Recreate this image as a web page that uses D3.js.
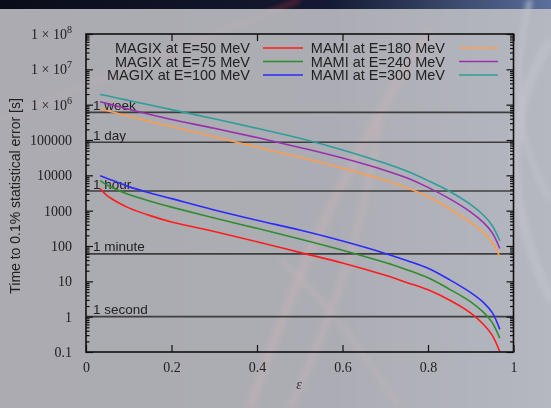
<!DOCTYPE html>
<html><head><meta charset="utf-8">
<script src="https://cdn.jsdelivr.net/npm/d3@7/dist/d3.min.js"></script>
<style>html,body{margin:0;padding:0;background:#0c0f1e;}svg{display:block;}</style>
</head><body>
<svg id="chart" width="551" height="408"></svg>
<script>
// ---- data ----
const eps = [0.033,0.05,0.075,0.1,0.15,0.2,0.3,0.4,0.5,0.6,0.7,0.75,0.8,0.85,0.9,0.93,0.95,0.968];
const magix50  = [4170,2630,1700,1200,724,479,257,132,66,33,14.8,9.3,5.75,2.95,1.26,0.60,0.30,0.102];
const magix75  = [7080,5250,3800,2880,1860,1260,617,316,158,76,33.9,21.4,12.6,6.03,2.63,1.32,0.69,0.245];
const magix100 = [9770,8130,6310,4790,3160,2190,1050,537,282,138,61.7,38.9,23.4,11.2,4.79,2.51,1.32,0.437];
const mami180  = [758600,676100,562300,467700,331100,239900,123000,63100,32360,15850,7244,4467,2512,1148,457,234,126,50.1];
const mami240  = [1202000,1072000,891300,741300,524800,380200,213800,117500,61660,30900,13800,8511,4571,2188,912,457,240,85.1];
const mami300  = [1950000,1778000,1514000,1318000,977200,724400,398100,213800,112200,52480,21880,13180,7079,3548,1479,741,380,141];

const seriesNames = ["MAGIX at E=50 MeV","MAGIX at E=75 MeV","MAGIX at E=100 MeV","MAMI at E=180 MeV","MAMI at E=240 MeV","MAMI at E=300 MeV"];
const seriesValues = [magix50, magix75, magix100, mami180, mami240, mami300];
const seriesColors = ["#ff1c1c","#2f8c2f","#2b2bff","#ff9d4d","#9b30ad","#2f9e9a"];

const refValues = [604800, 86400, 3600, 60, 1];
const refLabels = ["1 week","1 day","1 hour","1 minute","1 second"];

const xTicks = [0,0.2,0.4,0.6,0.8,1];
const xTickLabels = ["0","0.2","0.4","0.6","0.8","1"];
const yTicks = [0.1,1,10,100,1000,10000,100000,1e6,1e7,1e8];
const yTickLabels = ["0.1","1","10","100","1000","10000","100000","1 × 10^6","1 × 10^7","1 × 10^8"];

// ---- layout ----
const svg = d3.select("#chart");
const W = 551, H = 408;
const L = 86, R = 513.5, T = 34, B = 352;

// background
const defs = svg.append("defs");
const g1 = defs.append("linearGradient").attr("id","topg").attr("x1","0").attr("x2","1");
g1.append("stop").attr("offset","0").attr("stop-color","#0a0c18");
g1.append("stop").attr("offset","0.6").attr("stop-color","#141a33");
g1.append("stop").attr("offset","1").attr("stop-color","#5a6f9a");
svg.append("rect").attr("width",W).attr("height",H).attr("fill","url(#topg)");
defs.append("filter").attr("id","bl").append("feGaussianBlur").attr("stdDeviation",2.5);
const sw = svg.append("g").attr("filter","url(#bl)").attr("fill","none");
sw.append("path").attr("d","M 250 408 Q 320 200 430 30").attr("stroke","#ff4a4a").attr("stroke-width",9).attr("opacity",0.45);
sw.append("path").attr("d","M 290 408 Q 360 260 380 120").attr("stroke","#ff5a5a").attr("stroke-width",7).attr("opacity",0.4);
sw.append("path").attr("d","M 400 408 Q 330 300 280 260").attr("stroke","#ff6060").attr("stroke-width",5).attr("opacity",0.35);
sw.append("path").attr("d","M 0 120 Q 150 60 300 0").attr("stroke","#ff4040").attr("stroke-width",4).attr("opacity",0.35);
sw.append("path").attr("d","M 551 40 Q 480 150 551 300").attr("stroke","#e8eeff").attr("stroke-width",10).attr("opacity",0.45);
sw.append("path").attr("d","M 530 0 Q 500 120 551 200").attr("stroke","#ffffff").attr("stroke-width",6).attr("opacity",0.4);
// translucent panel
svg.append("rect").attr("x",0).attr("y",9).attr("width",W).attr("height",H-9)
  .attr("fill","#c2c2c6").attr("opacity",0.88);

const x = d3.scaleLinear().domain([0,1]).range([L,R]);
const y = d3.scaleLog().domain([0.1,1e8]).range([B,T]);

// reference lines
const refG = svg.append("g");
refG.selectAll("line").data(refValues).join("line")
  .attr("x1",L).attr("x2",R).attr("y1",d=>y(d)).attr("y2",d=>y(d))
  .attr("stroke","#2a2a2a").attr("stroke-opacity",0.85).attr("stroke-width",1.6);
refG.selectAll("text").data(refValues).join("text")
  .attr("x",L+7).attr("y",d=>y(d)-2.5)
  .attr("font-family","Liberation Sans, Arial, sans-serif").attr("font-size",13.5)
  .attr("fill","#222").text((d,i)=>refLabels[i]);

// curves
const clipId = "plotclip";
defs.append("clipPath").attr("id",clipId).append("rect").attr("x",L).attr("y",T).attr("width",R-L).attr("height",B-T);
const line = d3.line().x(d=>x(d[0])).y(d=>y(d[1])).curve(d3.curveCatmullRom.alpha(0.5));
const curves = svg.append("g").attr("clip-path",`url(#${clipId})`);
seriesValues.forEach((vals,i)=>{
  curves.append("path").datum(eps.map((e,j)=>[e,vals[j]]))
    .attr("d",line).attr("fill","none").attr("stroke",seriesColors[i]).attr("stroke-width",1.6);
});

// axes
const tickFont = "Liberation Serif, 'DejaVu Serif', serif";
const minor = [];
for (let k=-1;k<8;k++) for (let m=2;m<=9;m++) minor.push(m*Math.pow(10,k));

const axL = svg.append("g").attr("transform",`translate(${L},0)`)
  .call(d3.axisLeft(y).tickValues(yTicks).tickSizeInner(-7).tickSizeOuter(0).tickPadding(14)
    .tickFormat((d,i)=>yTickLabels[i]));
axL.selectAll("text").attr("font-family",tickFont).attr("font-size",14).attr("fill","#222")
  .each(function(){
    const t = d3.select(this), s = t.text();
    if (s.includes("^")) {
      const [a,b] = s.split("^");
      t.text(a);
      t.append("tspan").attr("dy",-6).attr("font-size",10).text(b);
    }
  });
svg.append("g").attr("transform",`translate(${L},0)`)
  .call(d3.axisLeft(y).tickValues(minor).tickSizeInner(-3.5).tickSizeOuter(0).tickFormat(""));
svg.append("g").attr("transform",`translate(${R},0)`)
  .call(d3.axisRight(y).tickValues(yTicks).tickSizeInner(-7).tickSizeOuter(0).tickFormat(""));
svg.append("g").attr("transform",`translate(${R},0)`)
  .call(d3.axisRight(y).tickValues(minor).tickSizeInner(-3.5).tickSizeOuter(0).tickFormat(""));
const axB = svg.append("g").attr("transform",`translate(0,${B})`)
  .call(d3.axisBottom(x).tickValues(xTicks).tickSizeInner(-7).tickSizeOuter(0).tickPadding(10)
    .tickFormat((d,i)=>xTickLabels[i]));
axB.selectAll("text").attr("font-family",tickFont).attr("font-size",14).attr("fill","#222");
svg.append("g").attr("transform",`translate(0,${T})`)
  .call(d3.axisTop(x).tickValues(xTicks).tickSizeInner(-7).tickSizeOuter(0).tickFormat(""));
svg.selectAll(".domain").remove();
svg.selectAll(".tick line").attr("stroke","#111").attr("stroke-width",1.2);

// frame
svg.append("rect").attr("x",L).attr("y",T).attr("width",R-L).attr("height",B-T)
  .attr("fill","none").attr("stroke","#111").attr("stroke-width",1.6);

// legend
const lg = svg.append("g").attr("font-family","Liberation Sans, Arial, sans-serif").attr("font-size",14.5).attr("fill","#222");
const rowsY = [48, 61.5, 75];
seriesNames.forEach((n,i)=>{
  const col = i<3?0:1, row = i%3;
  const textRight = col===0 ? 250 : 445;
  const lx1 = col===0 ? 263 : 459, lx2 = col===0 ? 303 : 498;
  lg.append("text").attr("x",textRight).attr("y",rowsY[row]+5).attr("text-anchor","end").text(n);
  lg.append("line").attr("x1",lx1).attr("x2",lx2).attr("y1",rowsY[row]).attr("y2",rowsY[row])
    .attr("stroke",seriesColors[i]).attr("stroke-width",1.6);
});

// axis titles
svg.append("text").attr("transform","translate(20,196) rotate(-90)").attr("text-anchor","middle")
  .attr("font-family","Liberation Sans, Arial, sans-serif").attr("font-size",14).attr("fill","#222")
  .text("Time to 0.1% statistical error [s]");
svg.append("text").attr("x",299).attr("y",389).attr("text-anchor","middle")
  .attr("font-family",tickFont).attr("font-style","italic").attr("font-size",14).attr("fill","#333")
  .text("ε");
</script>
</body></html>
